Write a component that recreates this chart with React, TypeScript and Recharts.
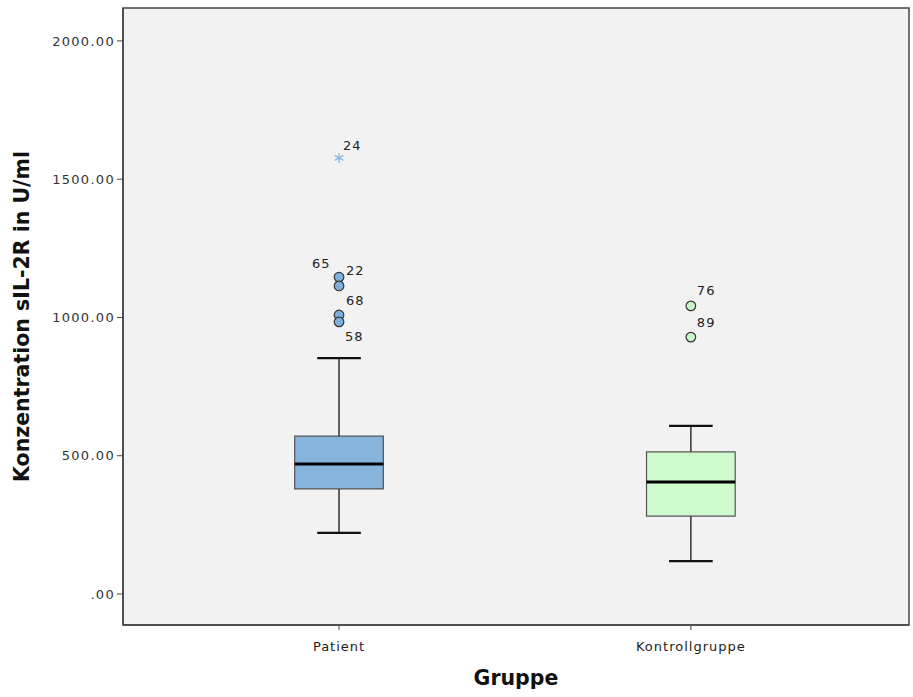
import { ComposedChart, XAxis, YAxis, CartesianGrid, ReferenceArea, ReferenceLine, Scatter } from 'recharts';

const GROUPS = ['Patient', 'Kontrollgruppe'];
const GROUP_POS = [1, 2];
const BOX_MIN = [221, 119];
const BOX_Q1 = [380, 282];
const BOX_MEDIAN = [470, 405];
const BOX_Q3 = [571, 514];
const BOX_MAX = [853, 608];
const Y_TICKS = [0, 500, 1000, 1500, 2000];

const PATIENT_OUTLIERS = [
  { id: '65', value: 1146 },
  { id: '22', value: 1114 },
  { id: '68', value: 1009 },
  { id: '58', value: 984 },
];
const PATIENT_EXTREMES = [{ id: '24', value: 1577 }];
const CONTROL_OUTLIERS = [
  { id: '76', value: 1042 },
  { id: '89', value: 929 },
];

// where each case number sits relative to its marker
const LABEL_OFFSETS: Record<string, [number, number]> = {
  '24': [4, -12],
  '65': [-27, -14],
  '22': [7, -15],
  '68': [7, -14],
  '58': [6, 15],
  '76': [6, -15],
  '89': [6, -15],
};

const BOX_COLORS = ['#86b4dc', '#cffbcf'];
const HALF_BOX = 0.126;
const HALF_CAP = 0.062;
const FONT = '"DejaVu Sans", sans-serif';

const toPoints = (list: { id: string; value: number }[], g: number) =>
  list.map((o) => ({ x: GROUP_POS[g], y: o.value, id: o.id }));

const CaseLabel = ({ cx, cy, id }: any) => {
  const [dx, dy] = LABEL_OFFSETS[id] || [6, -14];
  return (
    <text x={cx + dx} y={cy + dy} fontSize={13} fill="#222" fontFamily={FONT} letterSpacing={1} dominantBaseline="central">
      {id}
    </text>
  );
};

const makeCircle = (fill: string) => (props: any) => {
  const { cx, cy, payload } = props;
  return (
    <g>
      <circle cx={cx} cy={cy} r={4.8} fill={fill} stroke="#333" strokeWidth={1.2} />
      <CaseLabel cx={cx} cy={cy} id={payload.id} />
    </g>
  );
};

const StarShape = (props: any) => {
  const { cx, cy, payload } = props;
  const r = 5;
  const lines = [0, 60, 120].map((a) => {
    const rad = (a * Math.PI) / 180 + Math.PI / 2;
    return (
      <line key={a} x1={cx - r * Math.cos(rad)} y1={cy - r * Math.sin(rad)} x2={cx + r * Math.cos(rad)} y2={cy + r * Math.sin(rad)} stroke="#8ab6e2" strokeWidth={1.3} />
    );
  });
  return (
    <g>
      {lines}
      <CaseLabel cx={cx} cy={cy} id={payload.id} />
    </g>
  );
};

const YLabel = ({ viewBox }: any) => {
  const x = viewBox.x + 22;
  const y = viewBox.y + viewBox.height / 2;
  return (
    <text x={x} y={y} transform={`rotate(-90 ${x} ${y})`} textAnchor="middle" dominantBaseline="central" fontSize={20.5} fontWeight="bold" fill="#111" fontFamily={FONT}>
      Konzentration sIL-2R in U/ml
    </text>
  );
};

const XLabel = ({ viewBox }: any) => {
  const x = viewBox.x + viewBox.width / 2;
  const y = viewBox.y + 53;
  return (
    <text x={x} y={y} textAnchor="middle" dominantBaseline="central" fontSize={20.5} fontWeight="bold" fill="#111" fontFamily={FONT}>
      Gruppe
    </text>
  );
};

const XTick = ({ x, y, payload }: any) => (
  <text x={x} y={y + 14} textAnchor="middle" dominantBaseline="central" fontSize={13} fill="#222" fontFamily={FONT} letterSpacing={1}>
    {GROUPS[GROUP_POS.indexOf(payload.value)] ?? ''}
  </text>
);

const X_DOMAIN: [number, number] = [0.386, 2.62];
const Y_DOMAIN: [number, number] = [-112, 2119];

export default function App() {
  return (
    <div style={{ width: 913, height: 697, background: '#fff' }}>
      <style>{`body{margin:0}`}</style>
      <ComposedChart width={913} height={697} margin={{ top: 8, right: 4, bottom: 0, left: 0 }}>
        <CartesianGrid fill="#f2f2f2" horizontal={false} vertical={false} />
        <XAxis
          type="number"
          dataKey="x"
          domain={X_DOMAIN}
          ticks={GROUP_POS}
          allowDataOverflow
          height={72}
          axisLine={{ stroke: '#444', strokeWidth: 1.5 }}
          tickLine={{ stroke: '#444' }}
          tickSize={5}
          tick={<XTick />}
          label={<XLabel />}
        />
        <YAxis
          type="number"
          dataKey="y"
          domain={Y_DOMAIN}
          ticks={Y_TICKS}
          allowDataOverflow
          width={123}
          tickFormatter={(v: number) => (v === 0 ? '.00' : v.toFixed(2))}
          axisLine={{ stroke: '#444', strokeWidth: 1.5 }}
          tickLine={{ stroke: '#444' }}
          tickSize={6}
          tick={{ fontSize: 13, fill: '#333', fontFamily: FONT, letterSpacing: 1.3 }}
          label={<YLabel />}
        />
        <ReferenceArea x1={X_DOMAIN[0]} x2={X_DOMAIN[1]} y1={Y_DOMAIN[0]} y2={Y_DOMAIN[1]} fill="none" stroke="#444" strokeWidth={1.5} fillOpacity={0} />
        {GROUP_POS.map((p, i) => (
          <ReferenceLine key={`wl-${i}`} segment={[{ x: p, y: BOX_MIN[i] }, { x: p, y: BOX_Q1[i] }]} stroke="#333" strokeWidth={1.5} />
        ))}
        {GROUP_POS.map((p, i) => (
          <ReferenceLine key={`wh-${i}`} segment={[{ x: p, y: BOX_Q3[i] }, { x: p, y: BOX_MAX[i] }]} stroke="#333" strokeWidth={1.5} />
        ))}
        {GROUP_POS.map((p, i) => (
          <ReferenceLine key={`cl-${i}`} segment={[{ x: p - HALF_CAP, y: BOX_MIN[i] }, { x: p + HALF_CAP, y: BOX_MIN[i] }]} stroke="#111" strokeWidth={2.2} />
        ))}
        {GROUP_POS.map((p, i) => (
          <ReferenceLine key={`ch-${i}`} segment={[{ x: p - HALF_CAP, y: BOX_MAX[i] }, { x: p + HALF_CAP, y: BOX_MAX[i] }]} stroke="#111" strokeWidth={2.2} />
        ))}
        {GROUP_POS.map((p, i) => (
          <ReferenceArea key={`box-${i}`} x1={p - HALF_BOX} x2={p + HALF_BOX} y1={BOX_Q1[i]} y2={BOX_Q3[i]} fill={BOX_COLORS[i]} fillOpacity={1} stroke="#555" strokeWidth={1.2} />
        ))}
        {GROUP_POS.map((p, i) => (
          <ReferenceLine key={`med-${i}`} segment={[{ x: p - HALF_BOX, y: BOX_MEDIAN[i] }, { x: p + HALF_BOX, y: BOX_MEDIAN[i] }]} stroke="#000" strokeWidth={3} />
        ))}
        <Scatter data={toPoints(PATIENT_OUTLIERS, 0)} dataKey="y" shape={makeCircle('#7fb0dd')} isAnimationActive={false} />
        <Scatter data={toPoints(PATIENT_EXTREMES, 0)} dataKey="y" shape={StarShape} isAnimationActive={false} />
        <Scatter data={toPoints(CONTROL_OUTLIERS, 1)} dataKey="y" shape={makeCircle('#c8f7c8')} isAnimationActive={false} />
      </ComposedChart>
    </div>
  );
}
